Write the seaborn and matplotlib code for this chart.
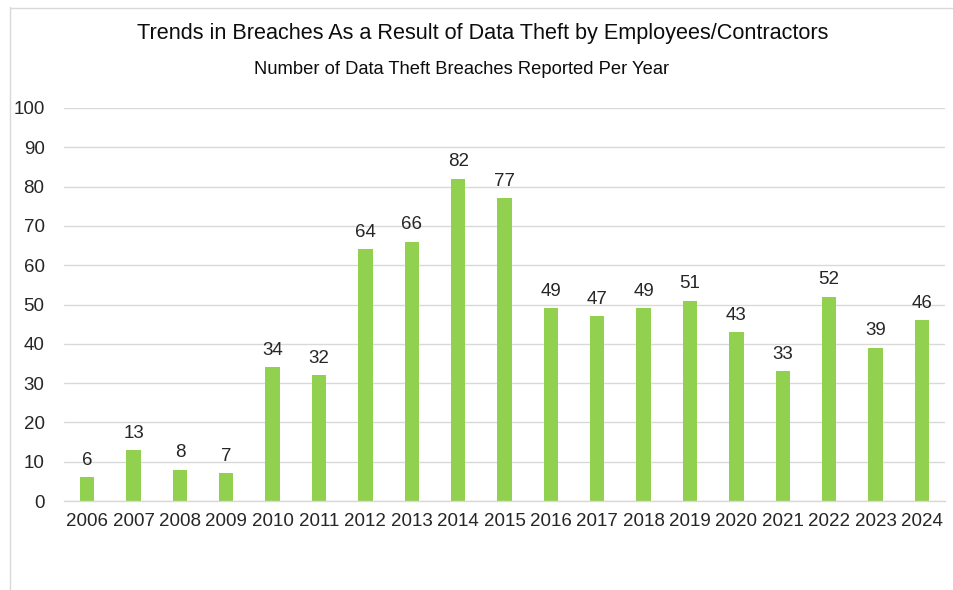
import matplotlib
matplotlib.use("Agg")
import matplotlib.pyplot as plt
import seaborn as sns
import pandas as pd
from matplotlib.lines import Line2D

years = ["2006", "2007", "2008", "2009", "2010", "2011", "2012", "2013", "2014", "2015",
         "2016", "2017", "2018", "2019", "2020", "2021", "2022", "2023", "2024"]
breaches = [6, 13, 8, 7, 34, 32, 64, 66, 82, 77, 49, 47, 49, 51, 43, 33, 52, 39, 46]
y_ticks = [0, 10, 20, 30, 40, 50, 60, 70, 80, 90, 100]

title = "Trends in Breaches As a Result of Data Theft by Employees/Contractors"
subtitle = "Number of Data Theft Breaches Reported Per Year"

sns.set_theme(style="white")
plt.rcParams["font.family"] = ["Liberation Sans", "DejaVu Sans"]

W, H = 954, 590
fig = plt.figure(figsize=(W / 100, H / 100), dpi=100)
ax = fig.add_axes([64 / W, 1 - 501 / H, (945 - 64) / W, (501 - 108) / H])

df = pd.DataFrame({"year": years, "count": breaches})
sns.barplot(data=df, x="year", y="count", color="#92D050", width=0.31,
            saturation=1, ax=ax, edgecolor="none")

ax.set_ylim(0, 100)
ax.set_xlim(-0.5, len(years) - 0.5)
ax.set_yticks(y_ticks)
ax.yaxis.grid(True, color="#D9D9D9", linewidth=1)
ax.set_axisbelow(True)
for s in ["top", "right", "left"]:
    ax.spines[s].set_visible(False)
ax.spines["bottom"].set_color("#D9D9D9")
ax.spines["bottom"].set_linewidth(1)
ax.set_xlabel("")
ax.set_ylabel("")
ax.tick_params(axis="x", length=0, pad=9, labelsize=13.5, labelcolor="#262626")
ax.tick_params(axis="y", length=0, pad=14, labelsize=13.5, labelcolor="#262626")

for c in ax.containers:
    ax.bar_label(c, labels=[str(v) for v in breaches], padding=6, fontsize=13.5, color="#262626")

fig.text(483 / W, 1 - 34 / H, title, ha="center", va="center", fontsize=15.6, color="#0d0d0d")
fig.text(461.5 / W, 1 - 69 / H, subtitle, ha="center", va="center", fontsize=13.2, color="#0d0d0d")

fig.add_artist(Line2D([10.5 / W, 10.5 / W], [0, 1 - 7 / H], color="#D9D9D9", linewidth=1))
fig.add_artist(Line2D([10 / W, 1], [1 - 7.5 / H, 1 - 7.5 / H], color="#D9D9D9", linewidth=1))

fig.savefig("out.png", dpi=100, facecolor="white")
